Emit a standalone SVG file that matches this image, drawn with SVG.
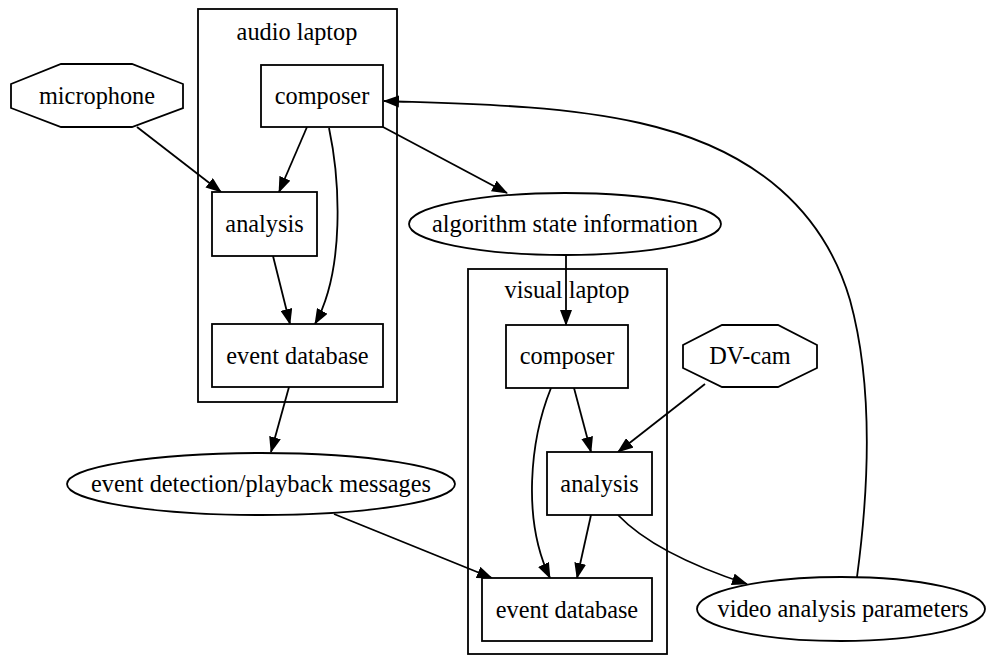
<svg xmlns="http://www.w3.org/2000/svg" width="989" height="656" viewBox="0 0 989 656">
<style>
.s{fill:#fff;stroke:#000;stroke-width:1.8}
.c{fill:none;stroke:#000;stroke-width:1.8}
.e{fill:none;stroke:#000;stroke-width:1.8;marker-end:url(#ah)}
text{font-family:"Liberation Serif","Times New Roman",serif;font-size:24.3px;text-anchor:middle;fill:#000}
</style>
<defs>
<marker id="ah" markerUnits="userSpaceOnUse" markerWidth="16" markerHeight="12" viewBox="0 0 16 12" refX="15" refY="6" orient="auto">
<path d="M0,0 L16,6 L0,12 z" fill="#000"/>
</marker>
</defs>
<rect width="989" height="656" fill="#fff"/>
<g id="cluster_audio">
<rect class="c" x="198" y="9" width="199" height="393"/>
<text x="297" y="40">audio laptop</text>
</g>
<g id="cluster_visual">
<rect class="c" x="468" y="269" width="199" height="385"/>
<text x="567" y="298">visual laptop</text>
</g>
<g id="connectors">
<path class="e" d="M137,127 L221,192"/>
<path class="e" d="M307,127 L279,192"/>
<path class="e" d="M329,128 C340,180 345,270 315,324"/>
<path class="e" d="M273,256 L290,324"/>
<path class="e" d="M383,127 L507,193"/>
<path class="e" d="M566,255 L566,325"/>
<path class="e" d="M857,577 C870,480 872,380 850,300 C825,215 760,150 640,123 C560,105 470,104 384,101"/>
<path class="e" d="M289,387 L271,452"/>
<path class="e" d="M334,514 L492,578"/>
<path class="e" d="M574,388 L591,452"/>
<path class="e" d="M551,388 C530,440 522,520 550,578"/>
<path class="e" d="M705,384 L618,452"/>
<path class="e" d="M591,515 L577,578"/>
<path class="e" d="M618,515 C640,538 680,562 747,584"/>
</g>
<g id="microphone">
<polygon class="s" points="11,84 61,64 132,64 183,84 183,108 132,127 61,127 11,108"/>
<text x="97" y="104">microphone</text>
</g>
<g id="audio_composer">
<rect class="s" x="261" y="65" width="122" height="62"/>
<text x="322" y="104">composer</text>
</g>
<g id="audio_analysis">
<rect class="s" x="212" y="192" width="105" height="64"/>
<text x="264.5" y="232">analysis</text>
</g>
<g id="audio_eventdb">
<rect class="s" x="212" y="324" width="171" height="63"/>
<text x="297.5" y="364">event database</text>
</g>
<g id="algorithm_state">
<ellipse class="s" cx="565" cy="224" rx="156" ry="31"/>
<text x="565" y="232">algorithm state information</text>
</g>
<g id="event_messages">
<ellipse class="s" cx="261" cy="484" rx="194" ry="31"/>
<text x="261" y="492">event detection/playback messages</text>
</g>
<g id="visual_composer">
<rect class="s" x="506" y="325" width="122" height="63"/>
<text x="567" y="364">composer</text>
</g>
<g id="dvcam">
<polygon class="s" points="683,345 722,325 778,325 817,345 817,368 778,387 722,387 683,368"/>
<text x="750" y="364">DV-cam</text>
</g>
<g id="visual_analysis">
<rect class="s" x="547" y="452" width="105" height="63"/>
<text x="599.5" y="492">analysis</text>
</g>
<g id="visual_eventdb">
<rect class="s" x="482" y="578" width="170" height="63"/>
<text x="567" y="618">event database</text>
</g>
<g id="video_params">
<ellipse class="s" cx="841" cy="609" rx="144" ry="32"/>
<text x="843" y="617">video analysis parameters</text>
</g>
</svg>
